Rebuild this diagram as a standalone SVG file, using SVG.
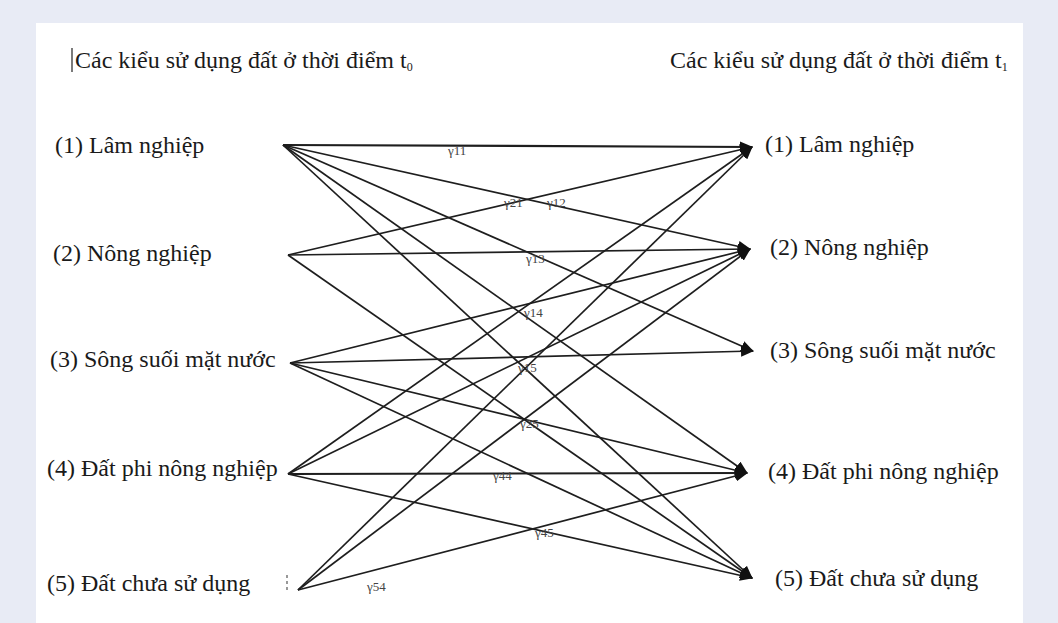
<svg xmlns="http://www.w3.org/2000/svg" width="1058" height="623" viewBox="0 0 1058 623">
<defs>
<style>
.t{font-family:"Liberation Serif","Times New Roman",serif;font-size:24px;fill:#1a1a1a}
.g{font-family:"Liberation Serif","Times New Roman",serif;font-size:13px;fill:#444}
.c line{stroke:#1e1e1e;stroke-width:1.7;marker-end:url(#ah)}
</style>
<marker id="ah" viewBox="0 0 13 11" refX="12" refY="5.5" markerWidth="13" markerHeight="11" markerUnits="userSpaceOnUse" orient="auto">
<path d="M0,0 L13,5.5 L0,11 Z" fill="#111"/>
</marker>
</defs>
<rect x="0" y="0" width="1058" height="623" fill="#e8ebf5"/>
<rect x="36" y="23" width="987" height="600" fill="#ffffff"/>

<g id="title-left">
<line x1="72" y1="48" x2="72" y2="72" stroke="#222" stroke-width="1.2"/>
<text class="t" x="75" y="68">Các kiểu sử dụng đất ở thời điểm t<tspan font-size="12" dy="3">0</tspan></text>
</g>
<g id="title-right">
<text class="t" x="670" y="68">Các kiểu sử dụng đất ở thời điểm t<tspan font-size="12" dy="3">1</tspan></text>
</g>

<g id="src-1"><text class="t" x="55" y="153">(1) Lâm nghiệp</text></g>
<g id="src-2"><text class="t" x="53" y="261">(2) Nông nghiệp</text></g>
<g id="src-3"><text class="t" x="50" y="367">(3) Sông suối mặt nước</text></g>
<g id="src-4"><text class="t" x="47" y="476">(4) Đất phi nông nghiệp</text></g>
<g id="src-5"><text class="t" x="47" y="591">(5) Đất chưa sử dụng</text>
<line x1="287" y1="575" x2="287" y2="592" stroke="#555" stroke-width="1.2" stroke-dasharray="3 3"/></g>

<g id="dst-1"><text class="t" x="765" y="152">(1) Lâm nghiệp</text></g>
<g id="dst-2"><text class="t" x="770" y="255">(2) Nông nghiệp</text></g>
<g id="dst-3"><text class="t" x="770" y="358">(3) Sông suối mặt nước</text></g>
<g id="dst-4"><text class="t" x="768" y="479">(4) Đất phi nông nghiệp</text></g>
<g id="dst-5"><text class="t" x="775" y="586">(5) Đất chưa sử dụng</text></g>

<g id="connectors" class="c">
<line x1="283" y1="145" x2="752" y2="147" style="stroke-width:2.2"/>
<line x1="283" y1="145" x2="750" y2="249"/>
<line x1="283" y1="145" x2="753" y2="351"/>
<line x1="283" y1="145" x2="747" y2="473"/>
<line x1="283" y1="145" x2="752" y2="578"/>
<line x1="288" y1="255" x2="752" y2="147"/>
<line x1="288" y1="255" x2="750" y2="249"/>
<line x1="288" y1="255" x2="752" y2="578"/>
<line x1="290" y1="363" x2="750" y2="249"/>
<line x1="290" y1="363" x2="753" y2="351"/>
<line x1="290" y1="363" x2="747" y2="473"/>
<line x1="290" y1="363" x2="752" y2="578"/>
<line x1="288" y1="474" x2="752" y2="147"/>
<line x1="288" y1="474" x2="750" y2="249"/>
<line x1="288" y1="474" x2="747" y2="473" style="stroke-width:2.2"/>
<line x1="288" y1="474" x2="752" y2="578"/>
<line x1="298" y1="590" x2="752" y2="147"/>
<line x1="298" y1="590" x2="750" y2="249"/>
<line x1="298" y1="590" x2="747" y2="473"/>
</g>

<g id="connector-labels">
<text class="g" x="448" y="155">γ11</text>
<text class="g" x="504" y="207">γ21</text>
<text class="g" x="547" y="207">γ12</text>
<text class="g" x="526" y="263">γ13</text>
<text class="g" x="524" y="317">γ14</text>
<text class="g" x="518" y="372">γ15</text>
<text class="g" x="520" y="428">γ25</text>
<text class="g" x="493" y="480">γ44</text>
<text class="g" x="535" y="537">γ45</text>
<text class="g" x="367" y="591">γ54</text>
</g>
</svg>
